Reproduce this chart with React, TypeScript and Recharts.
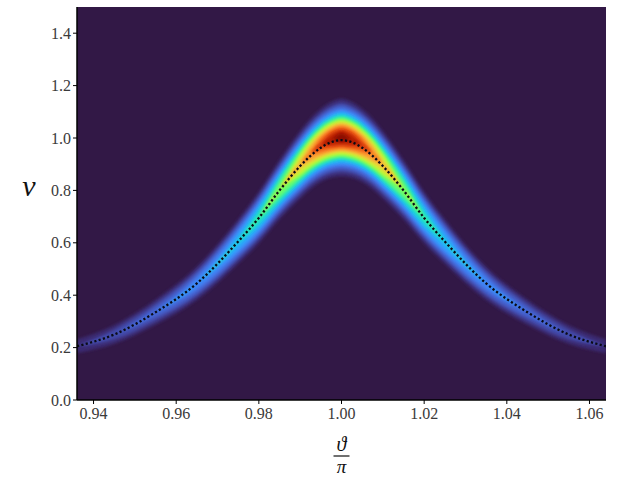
import { Area, ComposedChart, CartesianGrid, Label, Line, XAxis, YAxis } from 'recharts';

// samples along the horizontal axis (theta / pi)
const theta = [
  0.936, 0.945, 0.955, 0.965, 0.975, 0.98, 0.985, 0.99, 0.9925, 0.995, 0.9975, 1.0,
  1.0025, 1.005, 1.0075, 1.01, 1.015, 1.02, 1.025, 1.035, 1.045, 1.055, 1.064,
];
// dotted curve
const nu = [
  0.205, 0.25, 0.335, 0.445, 0.605, 0.695, 0.8, 0.893, 0.932, 0.963, 0.984, 0.992,
  0.984, 0.963, 0.932, 0.893, 0.8, 0.695, 0.605, 0.445, 0.335, 0.25, 0.205,
];
// heat band: centre, peak intensity (0..1) and vertical spread, read per column
const bandCenter = [
  0.205, 0.25, 0.335, 0.445, 0.605, 0.697, 0.803, 0.898, 0.94, 0.972, 0.993, 1.002,
  0.993, 0.972, 0.94, 0.898, 0.803, 0.697, 0.605, 0.445, 0.335, 0.25, 0.205,
];
const bandPeak = [
  0.07, 0.095, 0.135, 0.2, 0.3, 0.38, 0.5, 0.67, 0.77, 0.87, 0.96, 1.0,
  0.96, 0.87, 0.77, 0.67, 0.5, 0.38, 0.3, 0.2, 0.135, 0.095, 0.07,
];
const bandSpread = [
  0.022, 0.025, 0.029, 0.034, 0.041, 0.045, 0.049, 0.053, 0.054, 0.055, 0.056, 0.057,
  0.056, 0.055, 0.054, 0.053, 0.049, 0.045, 0.041, 0.034, 0.029, 0.025, 0.022,
];

const xTicks = [0.94, 0.96, 0.98, 1.0, 1.02, 1.04, 1.06];
const yTicks = [0, 0.2, 0.4, 0.6, 0.8, 1.0, 1.2, 1.4];

// colour levels (turbo-like)
const levels = [0.035, 0.07, 0.11, 0.16, 0.22, 0.29, 0.36, 0.43, 0.5, 0.57, 0.64, 0.71, 0.78, 0.85, 0.91, 0.96];
const levelColors = [
  '#3a2a72', '#4349a8', '#4563d2', '#4182f4', '#2fa6fb', '#18cfdf', '#30ecaa', '#6afc6a',
  '#adfb3c', '#d6ea34', '#f3c23a', '#fd962e', '#f2661a', '#db3e0a', '#b92103', '#8e0b02',
];

const BG = '#321846';
const FONT = "'Liberation Serif', 'DejaVu Serif', serif";

const data = theta.map((t, i) => {
  const row: Record<string, number | number[]> = { theta: t, nu: nu[i] };
  levels.forEach((lv, k) => {
    const a = bandPeak[i];
    const hw = a > lv ? bandSpread[i] * Math.sqrt(2 * Math.log(a / lv)) : 0;
    row[`b${k}`] = [bandCenter[i] - hw, bandCenter[i] + hw];
  });
  return row;
});

const XLabel = (props: any) => {
  const vb = props.viewBox;
  const cx = vb.x + vb.width / 2;
  return (
    <g>
      <text x={cx} y={451} textAnchor="middle" fontSize={20} fontStyle="italic" fill="#111">ϑ</text>
      <line x1={cx - 8} x2={cx + 8} y1={456} y2={456} stroke="#111" strokeWidth={1.2} />
      <text x={cx} y={473} textAnchor="middle" fontSize={19} fontStyle="italic" fill="#111">π</text>
    </g>
  );
};

const YLabel = () => (
  <text x={29} y={196} textAnchor="middle" fontSize={30} fontStyle="italic" fill="#111">
    ν
  </text>
);

const css = `
.band .recharts-area-area { filter: url(#bandBlur); }
.chart-wrap, .chart-wrap svg text { font-family: ${FONT}; }
`;

export default function App() {
  const tickStyle = { fontSize: 16, fill: '#3a3a3a' };
  return (
    <div className="chart-wrap" style={{ position: 'absolute', left: 0, top: 0, width: 626, height: 480, background: '#fff' }}>
      <svg width={0} height={0} style={{ position: 'absolute' }}>
        <defs>
          <filter id="bandBlur" x="-50%" y="-50%" width="200%" height="200%">
            <feGaussianBlur stdDeviation={1.6} />
          </filter>
        </defs>
      </svg>
      <style>{css}</style>
      <ComposedChart width={626} height={480} data={data} margin={{ top: 7, right: 20, bottom: 50, left: 0 }}>
        <CartesianGrid fill={BG} horizontal={false} vertical={false} stroke="none" />
        {levels.map((lv, k) => (
          <Area
            key={lv}
            className="band"
            type="monotone"
            dataKey={`b${k}`}
            stroke="none"
            fill={levelColors[k]}
            fillOpacity={1}
            dot={false}
            activeDot={false}
            isAnimationActive={false}
          />
        ))}
        <Line
          type="monotone"
          dataKey="nu"
          stroke="#0b0b16"
          strokeWidth={2.3}
          strokeDasharray="2.2 2.3"
          dot={false}
          activeDot={false}
          isAnimationActive={false}
        />
        <XAxis
          type="number"
          dataKey="theta"
          domain={[0.936, 1.064]}
          ticks={xTicks}
          allowDataOverflow
          tickFormatter={(v: number) => v.toFixed(2)}
          tick={tickStyle}
          tickSize={4}
          tickMargin={4}
          tickLine={{ stroke: '#000' }}
          axisLine={{ stroke: '#000', strokeWidth: 1.5 }}
          height={30}
        >
          <Label content={XLabel} />
        </XAxis>
        <XAxis
          xAxisId="top"
          orientation="top"
          type="number"
          dataKey="theta"
          domain={[0.936, 1.064]}
          allowDataOverflow
          tick={false}
          tickLine={false}
          axisLine={{ stroke: '#000', strokeWidth: 1.5 }}
          height={0}
        />
        <YAxis
          type="number"
          domain={[0, 1.5]}
          ticks={yTicks}
          allowDataOverflow
          tickFormatter={(v: number) => v.toFixed(1)}
          tick={tickStyle}
          tickSize={4}
          tickLine={{ stroke: '#000' }}
          axisLine={{ stroke: '#000', strokeWidth: 1.5 }}
          width={77}
        >
          <Label content={YLabel} />
        </YAxis>
        <YAxis
          yAxisId="right"
          orientation="right"
          type="number"
          domain={[0, 1.5]}
          allowDataOverflow
          tick={false}
          tickLine={false}
          axisLine={{ stroke: '#000', strokeWidth: 1.5 }}
          width={0}
        />
      </ComposedChart>
    </div>
  );
}
